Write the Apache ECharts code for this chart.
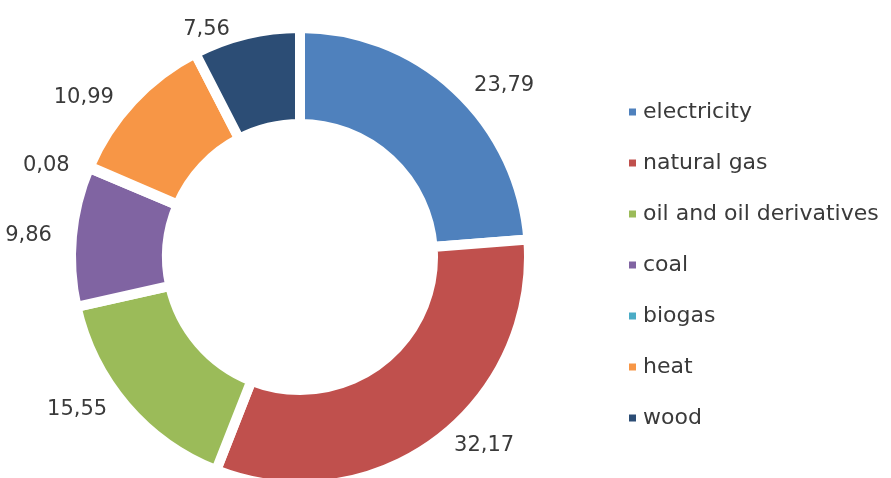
<!DOCTYPE html>
<html>
<head>
<meta charset="utf-8">
<script src="https://cdn.jsdelivr.net/npm/echarts@6/dist/echarts.min.js"></script>
<style>html,body{margin:0;padding:0;background:#fff;}#c{width:891px;height:478px;}</style>
</head>
<body>
<div id="c"></div>
<script>
var categories = ['electricity', 'natural gas', 'oil and oil derivatives', 'coal', 'biogas', 'heat', 'wood'];
var values = [23.79, 32.17, 15.55, 9.86, 0.08, 10.99, 7.56];
var colors = ['#4F81BD', '#C0504D', '#9BBB59', '#8064A2', '#4BACC6', '#F79646', '#2C4D75'];

var chart = echarts.init(document.getElementById('c'), null, {renderer: 'canvas'});
var data = categories.map(function (n, i) { return {name: n, value: values[i]}; });
chart.setOption({
  animation: false,
  color: colors,
  legend: {
    orient: 'vertical',
    left: 622,
    top: 96,
    icon: 'rect',
    itemWidth: 9,
    itemHeight: 9,
    itemGap: 29,
    textStyle: {fontFamily: 'DejaVu Sans', fontSize: 22, color: '#3a3a3a', padding: [0, 0, 0, 1]},
    data: categories
  },
  series: [{
    type: 'pie',
    center: [300, 257],
    radius: [133, 229],
    startAngle: 90,
    clockwise: true,
    avoidLabelOverlap: true,
    itemStyle: {borderColor: '#ffffff', borderWidth: 10},
    label: {
      show: true,
      position: 'outside',
      overflow: 'none',
      fontFamily: 'DejaVu Sans',
      fontSize: 21,
      color: '#3a3a3a',
      formatter: function (p) { return p.value.toFixed(2).replace('.', ','); }
    },
    labelLine: {show: false, length: 5, length2: 10},
    emphasis: {disabled: true},
    data: data
  }]
});
</script>
</body>
</html>
